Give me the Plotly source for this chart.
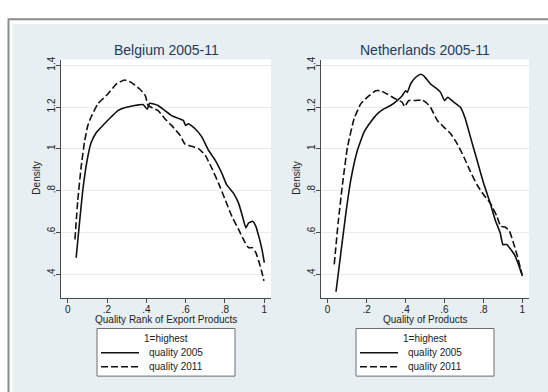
import plotly.graph_objects as go

# ---- data: kernel density of product quality ranks ----
be_x_2005 = [0.043, 0.060, 0.077, 0.099, 0.119, 0.145, 0.187, 0.221, 0.255, 0.289, 0.340, 0.383,
             0.405, 0.417, 0.460, 0.494, 0.528, 0.588, 0.600, 0.614, 0.648, 0.682, 0.716, 0.750,
             0.784, 0.809, 0.843, 0.869, 0.889, 0.906, 0.920, 0.940, 0.957, 0.974, 0.988, 1.000]
be_y_2005 = [0.479, 0.645, 0.804, 0.946, 1.029, 1.077, 1.120, 1.152, 1.183, 1.196, 1.207, 1.212,
             1.190, 1.218, 1.207, 1.183, 1.159, 1.136, 1.112, 1.120, 1.096, 1.057, 0.993, 0.946,
             0.883, 0.827, 0.788, 0.740, 0.677, 0.622, 0.645, 0.653, 0.629, 0.574, 0.519, 0.455]

be_x_2011 = [0.037, 0.051, 0.068, 0.085, 0.102, 0.119, 0.153, 0.204, 0.247, 0.289, 0.323, 0.366,
             0.395, 0.409, 0.460, 0.494, 0.528, 0.571, 0.597, 0.631, 0.665, 0.699, 0.733, 0.767,
             0.801, 0.835, 0.869, 0.903, 0.920, 0.940, 0.957, 0.974, 0.988, 0.998]
be_y_2011 = [0.566, 0.750, 0.910, 1.030, 1.110, 1.152, 1.215, 1.262, 1.310, 1.329, 1.318, 1.286,
             1.254, 1.207, 1.183, 1.144, 1.112, 1.065, 1.022, 1.012, 1.001, 0.970, 0.907, 0.836,
             0.756, 0.677, 0.614, 0.550, 0.527, 0.527, 0.503, 0.455, 0.408, 0.368]

nl_x_2005 = [0.043, 0.068, 0.094, 0.119, 0.153, 0.187, 0.221, 0.255, 0.289, 0.323, 0.357, 0.383,
             0.400, 0.409, 0.426, 0.451, 0.477, 0.494, 0.528, 0.563, 0.580, 0.600, 0.617, 0.648,
             0.682, 0.707, 0.733, 0.767, 0.801, 0.835, 0.860, 0.886, 0.900, 0.920, 0.940, 0.963,
             0.980, 1.000]
nl_y_2005 = [0.316, 0.503, 0.693, 0.851, 0.993, 1.080, 1.128, 1.167, 1.191, 1.207, 1.231, 1.254,
             1.278, 1.270, 1.310, 1.341, 1.357, 1.349, 1.310, 1.286, 1.270, 1.231, 1.247, 1.223,
             1.199, 1.144, 1.057, 0.946, 0.835, 0.740, 0.661, 0.598, 0.542, 0.542, 0.519, 0.487,
             0.447, 0.392]

nl_x_2011 = [0.034, 0.054, 0.077, 0.102, 0.136, 0.170, 0.204, 0.247, 0.272, 0.306, 0.349, 0.383,
             0.395, 0.417, 0.451, 0.485, 0.510, 0.528, 0.563, 0.597, 0.631, 0.665, 0.699, 0.733,
             0.767, 0.801, 0.835, 0.869, 0.889, 0.911, 0.934, 0.954, 0.974, 0.998]
nl_y_2011 = [0.447, 0.645, 0.835, 1.009, 1.144, 1.215, 1.247, 1.278, 1.278, 1.262, 1.239, 1.223,
             1.202, 1.231, 1.231, 1.234, 1.218, 1.199, 1.136, 1.104, 1.073, 1.025, 0.962, 0.891,
             0.828, 0.780, 0.740, 0.677, 0.629, 0.626, 0.606, 0.550, 0.487, 0.400]

panel_titles = ["Belgium 2005-11", "Netherlands 2005-11"]
x_titles = ["Quality Rank of Export Products", "Quality of Products"]
y_title = "Density"
series_names = ["quality 2005", "quality 2011"]
legend_title = "1=highest"

x_tickvals = [0, 0.2, 0.4, 0.6, 0.8, 1]
x_ticktext = ["0", ".2", ".4", ".6", ".8", "1"]
y_tickvals = [0.4, 0.6, 0.8, 1.0, 1.2, 1.4]
y_ticktext = [".4", ".6", ".8", "1", "1.2", "1.4"]

# ---- page geometry (pixels) ----
W, H = 548, 392
FONT = "Liberation Sans, Arial, sans-serif"
TITLE_COLOR = "#1f3a5f"
TEXT_COLOR = "#222222"
AXIS_COLOR = "#4a4a4a"
GRID_COLOR = "#e4eef0"
BG_COLOR = "#e8eff2"
LINE_COLOR = "#111111"
DASH = "7px,3px"


def px(x):
    return x / W


def py(y):
    return 1 - y / H


panels = [
    dict(left=61, right=271),
    dict(left=321, right=529),
]
plot_top, plot_bottom = 57, 297

fig = go.Figure()

curves = [
    (be_x_2005, be_y_2005, be_x_2011, be_y_2011),
    (nl_x_2005, nl_y_2005, nl_x_2011, nl_y_2011),
]

for i, (x5, y5, x11, y11) in enumerate(curves):
    xa = "x" if i == 0 else "x2"
    ya = "y" if i == 0 else "y2"
    fig.add_trace(go.Scatter(x=x5, y=y5, mode="lines", name=series_names[0],
                             line=dict(color=LINE_COLOR, width=1.6, shape="spline", smoothing=0.4),
                             xaxis=xa, yaxis=ya, showlegend=False))
    fig.add_trace(go.Scatter(x=x11, y=y11, mode="lines", name=series_names[1],
                             line=dict(color=LINE_COLOR, width=1.6, dash=DASH,
                                       shape="spline", smoothing=0.4),
                             xaxis=xa, yaxis=ya, showlegend=False))

axis_common_x = dict(
    range=[-0.034, 1.034], tickvals=x_tickvals, ticktext=x_ticktext,
    showgrid=False, zeroline=False, showline=True, linecolor=AXIS_COLOR, linewidth=1,
    ticks="outside", ticklen=4, tickcolor=AXIS_COLOR, tickwidth=1, ticklabelstandoff=-2,
    tickfont=dict(family=FONT, size=10, color=TEXT_COLOR), fixedrange=True,
)
axis_common_y = dict(
    range=[0.2875, 1.427], tickvals=y_tickvals, ticktext=y_ticktext, tickangle=-90,
    showgrid=True, gridcolor=GRID_COLOR, gridwidth=1, zeroline=False,
    showline=True, linecolor=AXIS_COLOR, linewidth=1,
    ticks="outside", ticklen=4, tickcolor=AXIS_COLOR, tickwidth=1, ticklabelstandoff=-3,
    tickfont=dict(family=FONT, size=10, color=TEXT_COLOR), fixedrange=True,
)

dom_y = [py(plot_bottom), py(plot_top)]
layout = dict(
    width=W, height=H,
    margin=dict(l=0, r=0, t=0, b=0),
    paper_bgcolor="white",
    plot_bgcolor="white",
    showlegend=False,
    xaxis=dict(axis_common_x, domain=[px(panels[0]["left"]), px(panels[0]["right"])], anchor="y"),
    yaxis=dict(axis_common_y, domain=dom_y, anchor="x"),
    xaxis2=dict(axis_common_x, domain=[px(panels[1]["left"]), px(panels[1]["right"])], anchor="y2"),
    yaxis2=dict(axis_common_y, domain=dom_y, anchor="x2"),
)

shapes = [
    # outer graph frame and tinted graph region
    dict(type="rect", xref="paper", yref="paper", x0=px(8.5), x1=px(W + 20), y0=py(H + 20), y1=py(16.5),
         line=dict(color="#8c8c8c", width=2), fillcolor="white", layer="below"),
    dict(type="rect", xref="paper", yref="paper", x0=px(12.5), x1=px(W + 20), y0=py(H + 20), y1=py(21),
         line=dict(width=0), fillcolor=BG_COLOR, layer="below"),
]
annotations = []

for i, p in enumerate(panels):
    cx = (p["left"] + p["right"]) / 2
    # white plot region sits on the tinted background
    shapes.append(dict(type="rect", xref="paper", yref="paper", x0=px(p["left"]), x1=px(p["right"]),
                       y0=py(plot_bottom), y1=py(plot_top), line=dict(width=0),
                       fillcolor="white", layer="below"))
    annotations.append(dict(text=panel_titles[i], xref="paper", yref="paper", x=px(cx), y=py(47),
                            showarrow=False, xanchor="center", yanchor="middle",
                            font=dict(family=FONT, size=14, color=TITLE_COLOR)))
    annotations.append(dict(text=x_titles[i], xref="paper", yref="paper", x=px(cx), y=py(319),
                            showarrow=False, xanchor="center", yanchor="middle",
                            font=dict(family=FONT, size=10, color=TEXT_COLOR)))
    annotations.append(dict(text=y_title, xref="paper", yref="paper", x=px(p["left"] - 24), y=py(177),
                            showarrow=False, xanchor="center", yanchor="middle", textangle=-90,
                            font=dict(family=FONT, size=10, color=TEXT_COLOR)))

    # legend box
    lb_left, lb_right = cx - 69, cx + 69
    lb_top, lb_bottom = 328, 376
    shapes.append(dict(type="rect", xref="paper", yref="paper", x0=px(lb_left), x1=px(lb_right),
                       y0=py(lb_bottom), y1=py(lb_top), line=dict(color="#6e6e6e", width=1),
                       fillcolor="white"))
    annotations.append(dict(text=legend_title, xref="paper", yref="paper", x=px(cx), y=py(338.5),
                            showarrow=False, xanchor="center", yanchor="middle",
                            font=dict(family=FONT, size=10, color=TEXT_COLOR)))
    for k, (name, dash) in enumerate(zip(series_names, ["solid", DASH])):
        ly = 352.5 + 14 * k
        shapes.append(dict(type="line", xref="paper", yref="paper", x0=px(lb_left + 4), x1=px(lb_left + 42),
                           y0=py(ly), y1=py(ly), line=dict(color=LINE_COLOR, width=1.6, dash=dash)))
        annotations.append(dict(text=name, xref="paper", yref="paper", x=px(lb_left + 50), y=py(ly),
                                showarrow=False, xanchor="left", yanchor="middle",
                                font=dict(family=FONT, size=10, color=TEXT_COLOR)))

layout["shapes"] = shapes
layout["annotations"] = annotations
fig.update_layout(**layout)

fig.write_html("out.html")
